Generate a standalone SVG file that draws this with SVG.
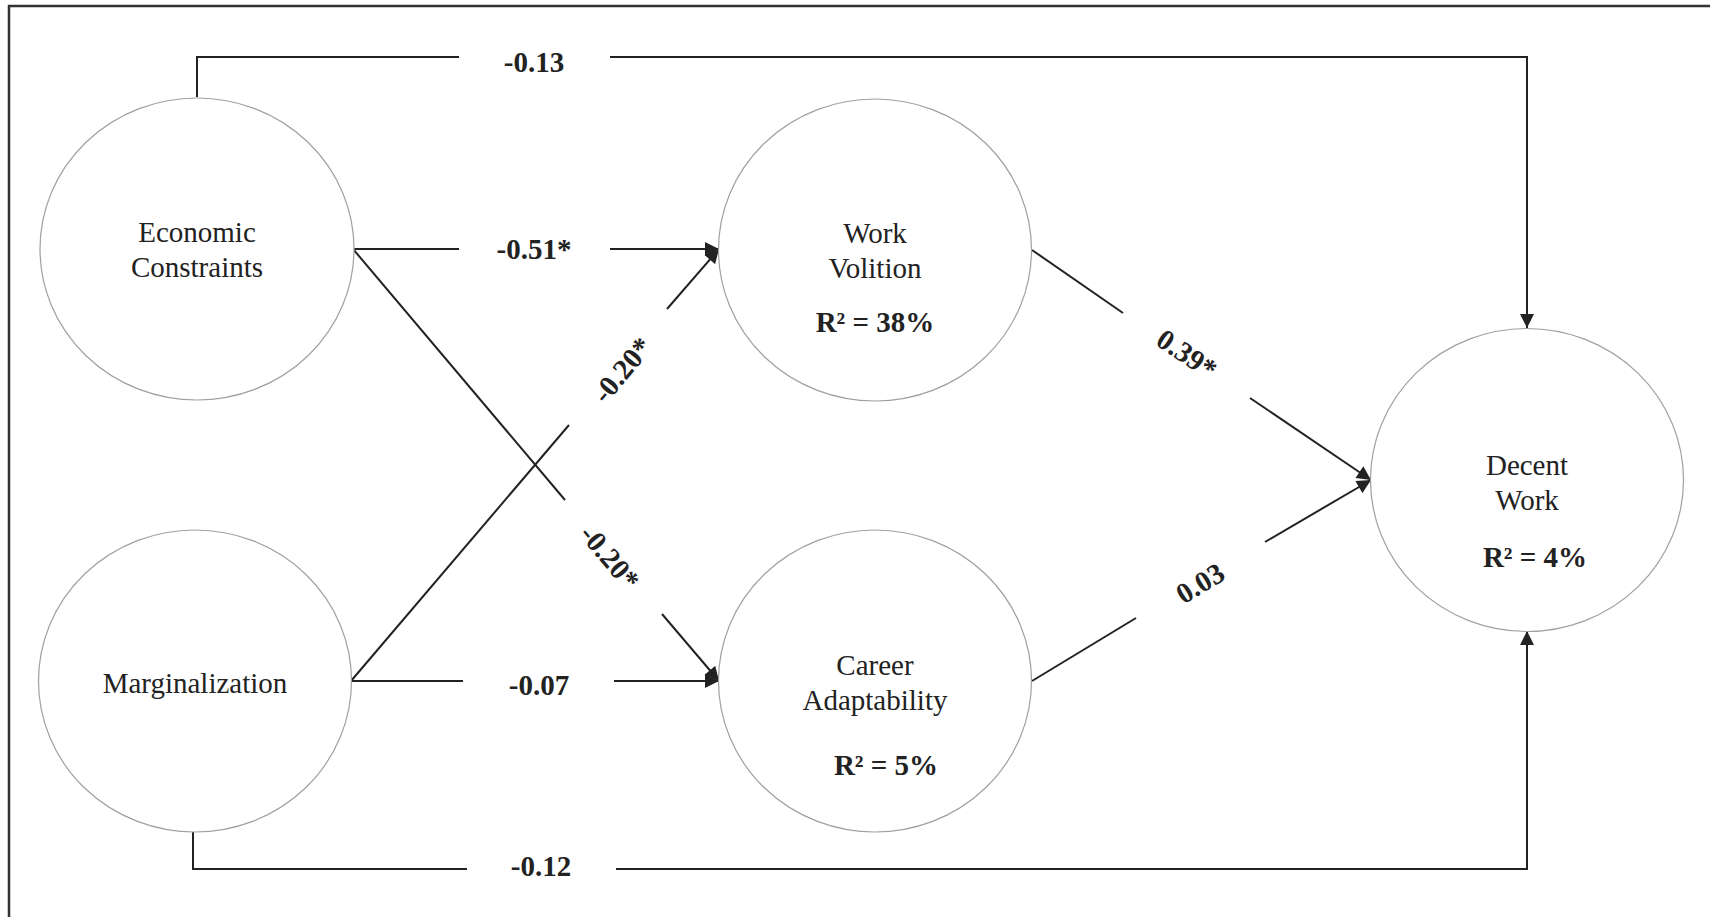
<svg xmlns="http://www.w3.org/2000/svg" width="1710" height="917" viewBox="0 0 1710 917">
<defs>
<marker id="arr" viewBox="0 0 10 10" refX="10" refY="5" markerWidth="7.5" markerHeight="7" markerUnits="strokeWidth" orient="auto">
<path d="M0,0 L10,5 L0,10 z" fill="#222"/>
</marker>
<style>
.node ellipse{fill:#fff;stroke:#a0a0a0;stroke-width:1.2}
.nt{font-family:"Liberation Serif","Times New Roman",serif;font-size:29px;fill:#222;text-anchor:middle}
.rt{font-family:"Liberation Serif","Times New Roman",serif;font-size:29px;font-weight:bold;fill:#222;text-anchor:middle}
.el{font-family:"Liberation Serif","Times New Roman",serif;font-size:29px;font-weight:bold;fill:#222;text-anchor:middle}
.c{fill:none;stroke:#222;stroke-width:2}
.ca{fill:none;stroke:#222;stroke-width:2;marker-end:url(#arr)}
</style>
</defs>
<rect width="1710" height="917" fill="#fff"/>
<path d="M9,917 V6 H1710" fill="none" stroke="#333" stroke-width="2.5"/>

<g id="connectors">
<!-- EC to DW (top) -->
<path class="c" d="M197,97 V57 H459"/>
<path class="ca" d="M610,57 H1527 V328"/>
<text class="el" x="534" y="72">-0.13</text>
<!-- EC to WV -->
<path class="c" d="M353,249 H459"/>
<path class="ca" d="M610,249 H719"/>
<text class="el" x="534" y="259">-0.51*</text>
<!-- EC to CA -->
<path class="c" d="M353,249 L565,500"/>
<path class="ca" d="M662,614 L719,681"/>
<text class="el" transform="translate(610,557) rotate(50)" x="0" y="10">-0.20*</text>
<!-- Marg to WV -->
<path class="c" d="M351,681 L569,425"/>
<path class="ca" d="M667,309 L719,249"/>
<text class="el" transform="translate(622,370) rotate(-50)" x="0" y="10">-0.20*</text>
<!-- Marg to CA -->
<path class="c" d="M351,681 H463"/>
<path class="ca" d="M614,681 H719"/>
<text class="el" x="539" y="695">-0.07</text>
<!-- Marg to DW (bottom) -->
<path class="c" d="M193,832 V869 H467"/>
<path class="ca" d="M616,869 H1527 V631"/>
<text class="el" x="541" y="876">-0.12</text>
<!-- WV to DW -->
<path class="c" d="M1032,250 L1123,313"/>
<path class="ca" d="M1250,398 L1371,480"/>
<text class="el" transform="translate(1187,354) rotate(34)" x="0" y="10">0.39*</text>
<!-- CA to DW -->
<path class="c" d="M1032,681 L1136,618"/>
<path class="ca" d="M1265,542 L1371,480"/>
<text class="el" transform="translate(1200,583) rotate(-31)" x="0" y="10">0.03</text>
</g>

<g id="economic-constraints" class="node">
<ellipse cx="197" cy="249" rx="157" ry="151"/>
<text class="nt" x="197" y="242">Economic</text>
<text class="nt" x="197" y="277">Constraints</text>
</g>
<g id="marginalization" class="node">
<ellipse cx="195" cy="681" rx="156.5" ry="151"/>
<text class="nt" x="195" y="693">Marginalization</text>
</g>
<g id="work-volition" class="node">
<ellipse cx="875" cy="250" rx="156.5" ry="151"/>
<text class="nt" x="875" y="243">Work</text>
<text class="nt" x="875" y="278">Volition</text>
<text class="rt" x="875" y="332">R² = 38%</text>
</g>
<g id="career-adaptability" class="node">
<ellipse cx="875" cy="681" rx="156.5" ry="151"/>
<text class="nt" x="875" y="675">Career</text>
<text class="nt" x="875" y="710">Adaptability</text>
<text class="rt" x="886" y="775">R² = 5%</text>
</g>
<g id="decent-work" class="node">
<ellipse cx="1527" cy="480" rx="156.5" ry="151.5"/>
<text class="nt" x="1527" y="475">Decent</text>
<text class="nt" x="1527" y="510">Work</text>
<text class="rt" x="1535" y="567">R² = 4%</text>
</g>
</svg>
